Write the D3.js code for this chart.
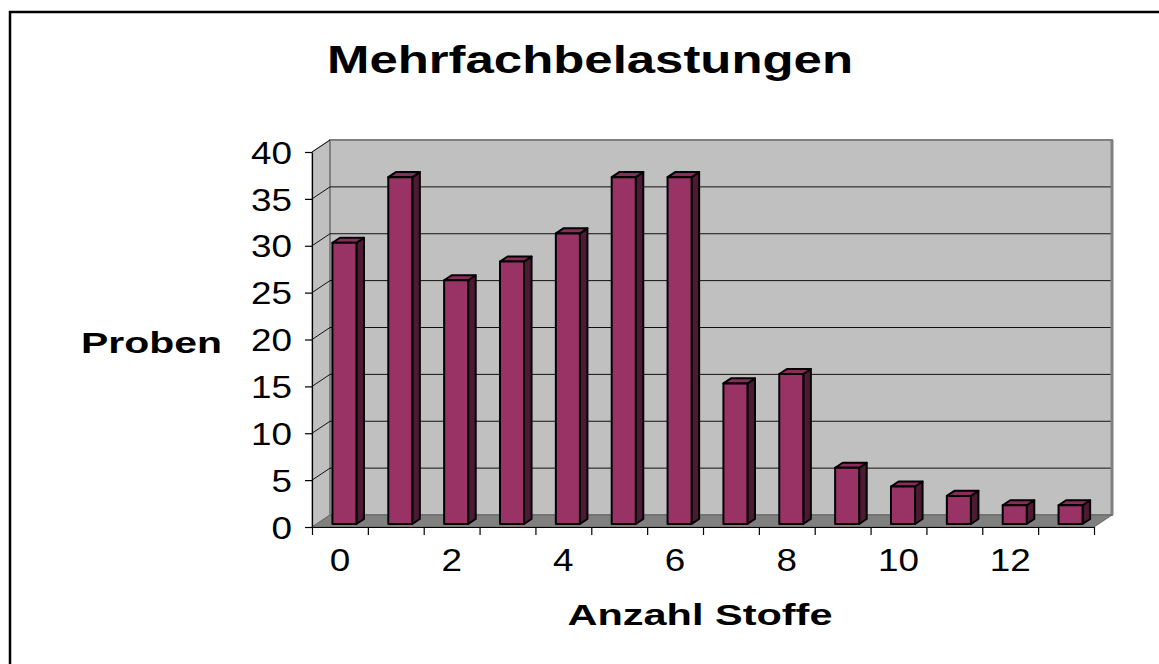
<!DOCTYPE html>
<html lang="de">
<head>
    <meta charset="UTF-8">
    <title>Mehrfachbelastungen</title>
    <script src="https://d3js.org/d3.v7.min.js"></script>
    <style>
        body { margin: 0; background: #fff; }
        svg { display: block; font-family: Arial, "Liberation Sans", sans-serif; }
    </style>
</head>
<body>
    <div id="chart"></div>

    <script>
        // Daten
        const categories = ["0", "1", "2", "3", "4", "5", "6", "7", "8", "9", "10", "11", "12", "13"];
        const samples = [30, 37, 26, 28, 31, 37, 37, 15, 16, 6, 4, 3, 2, 2];
        const yTicks = [0, 5, 10, 15, 20, 25, 30, 35, 40];
        const xLabelTicks = ["0", "2", "4", "6", "8", "10", "12"];

        const W = 1159, H = 664;
        // Vorderebene des Diagramms
        const plot = {left: 312, right: 1094, top: 152, bottom: 527};
        // 3D-Tiefe
        const depth = {dx: 18, dy: -12};
        const barFront = 0.25, barBack = 0.67;

        const svg = d3.select("#chart").append("svg")
            .attr("width", W)
            .attr("height", H);

        // Rahmen
        svg.append("rect")
            .attr("x", 10).attr("y", 12)
            .attr("width", W + 20).attr("height", H + 20)
            .attr("fill", "#fff")
            .attr("stroke", "#000")
            .attr("stroke-width", 2.5);

        const x = d3.scaleBand()
            .domain(categories)
            .range([plot.left, plot.right])
            .padding(0);

        const xEdge = d3.scaleLinear()
            .domain([0, categories.length])
            .range([plot.left, plot.right]);

        const y = d3.scaleLinear()
            .domain([0, 40])
            .range([plot.bottom, plot.top]);

        const proj = (px, py, t) => [px + t * depth.dx, py + t * depth.dy];
        const poly = pts => "M" + pts.map(p => p.join(",")).join("L") + "Z";

        // Seitenwand
        svg.append("path")
            .attr("d", poly([proj(plot.left, y(40), 0), proj(plot.left, y(40), 1), proj(plot.left, y(0), 1), proj(plot.left, y(0), 0)]))
            .attr("fill", "#c0c0c0")
            .attr("stroke", "#808080")
            .attr("stroke-width", 1);

        // Rückwand
        svg.append("path")
            .attr("d", poly([proj(plot.left, y(40), 1), proj(plot.right, y(40), 1), proj(plot.right, y(0), 1), proj(plot.left, y(0), 1)]))
            .attr("fill", "#c0c0c0")
            .attr("stroke", "#808080")
            .attr("stroke-width", 2);

        // Gitternetzlinien
        yTicks.filter(t => t > 0 && t < 40).forEach(t => {
            const a = proj(plot.left, y(t), 1), b = proj(plot.right, y(t), 1);
            svg.append("line")
                .attr("x1", a[0]).attr("y1", a[1]).attr("x2", b[0]).attr("y2", b[1])
                .attr("stroke", "#111").attr("stroke-width", 1);
        });
        yTicks.filter(t => t > 0).forEach(t => {
            const a = proj(plot.left, y(t), 0), b = proj(plot.left, y(t), 1);
            svg.append("line")
                .attr("x1", a[0]).attr("y1", a[1]).attr("x2", b[0]).attr("y2", b[1])
                .attr("stroke", "#111").attr("stroke-width", 1);
        });

        // rechte Kante der Rückwand
        {
            const a = proj(plot.right, y(40), 1), b = proj(plot.right, y(0), 1);
            svg.append("line")
                .attr("x1", a[0]).attr("y1", a[1]).attr("x2", b[0]).attr("y2", b[1])
                .attr("stroke", "#808080").attr("stroke-width", 3);
        }

        // Boden
        svg.append("path")
            .attr("d", poly([proj(plot.left, y(0), 0), proj(plot.left, y(0), 1), proj(plot.right, y(0), 1), proj(plot.right, y(0), 0)]))
            .attr("fill", "#808080")
            .attr("stroke", "#666")
            .attr("stroke-width", 1);

        // Säulen
        const bw = x.bandwidth() * 0.43;
        const bars = svg.append("g");
        categories.forEach((c, i) => {
            const cx = x(c) + x.bandwidth() / 2;
            const xl = cx - bw / 2, xr = cx + bw / 2;
            const yt = y(samples[i]), yb = y(0);
            const g = bars.append("g")
                .attr("stroke", "#000")
                .attr("stroke-width", 2)
                .attr("stroke-linejoin", "round");
            g.append("path")
                .attr("d", poly([proj(xr, yt, barFront), proj(xr, yt, barBack), proj(xr, yb, barBack), proj(xr, yb, barFront)]))
                .attr("fill", "#4d1933");
            g.append("path")
                .attr("d", poly([proj(xl, yt, barFront), proj(xl, yt, barBack), proj(xr, yt, barBack), proj(xr, yt, barFront)]))
                .attr("fill", "#8a2d5c");
            g.append("path")
                .attr("d", poly([proj(xl, yt, barFront), proj(xr, yt, barFront), proj(xr, yb, barFront), proj(xl, yb, barFront)]))
                .attr("fill", "#993366");
        });

        // Y-Achse
        const yAxis = svg.append("g")
            .attr("transform", `translate(${plot.left},0)`)
            .call(d3.axisLeft(y).tickValues(yTicks).tickSize(7).tickPadding(13).tickSizeOuter(0));
        yAxis.select(".domain").attr("stroke", "#000").attr("stroke-width", 1.2);
        yAxis.selectAll(".tick line").attr("stroke", "#000").attr("stroke-width", 1.2);
        yAxis.selectAll("text")
            .attr("fill", "#000")
            .style("font-size", "31px")
            .attr("dy", "0.36em")
            .attr("textLength", d => String(d).length * 20.5)
            .attr("lengthAdjust", "spacingAndGlyphs");

        // X-Achse: Striche an den Kategoriegrenzen
        const xTickAxis = svg.append("g")
            .attr("transform", `translate(0,${plot.bottom})`)
            .call(d3.axisBottom(xEdge).tickValues(d3.range(categories.length + 1)).tickSize(8).tickFormat("").tickSizeOuter(0));
        xTickAxis.select(".domain").attr("stroke", "#000").attr("stroke-width", 1.2);
        xTickAxis.selectAll(".tick line").attr("stroke", "#000").attr("stroke-width", 1.2);

        // X-Achse: Beschriftung
        const xLabelAxis = svg.append("g")
            .attr("transform", `translate(0,${plot.bottom})`)
            .call(d3.axisBottom(x).tickValues(xLabelTicks).tickSize(0).tickPadding(22));
        xLabelAxis.select(".domain").remove();
        xLabelAxis.selectAll("text")
            .attr("fill", "#000")
            .style("font-size", "31px")
            .attr("dy", "0.71em")
            .attr("textLength", d => String(d).length * 20.5)
            .attr("lengthAdjust", "spacingAndGlyphs");

        // Titel
        svg.append("text")
            .attr("x", 590).attr("y", 73)
            .attr("text-anchor", "middle")
            .style("font-size", "39px").style("font-weight", "bold")
            .attr("textLength", 526).attr("lengthAdjust", "spacingAndGlyphs")
            .text("Mehrfachbelastungen");

        svg.append("text")
            .attr("x", 81).attr("y", 353)
            .style("font-size", "30px").style("font-weight", "bold")
            .attr("textLength", 141).attr("lengthAdjust", "spacingAndGlyphs")
            .text("Proben");

        svg.append("text")
            .attr("x", 700).attr("y", 625)
            .attr("text-anchor", "middle")
            .style("font-size", "30px").style("font-weight", "bold")
            .attr("textLength", 265).attr("lengthAdjust", "spacingAndGlyphs")
            .text("Anzahl Stoffe");
    </script>
</body>
</html>
